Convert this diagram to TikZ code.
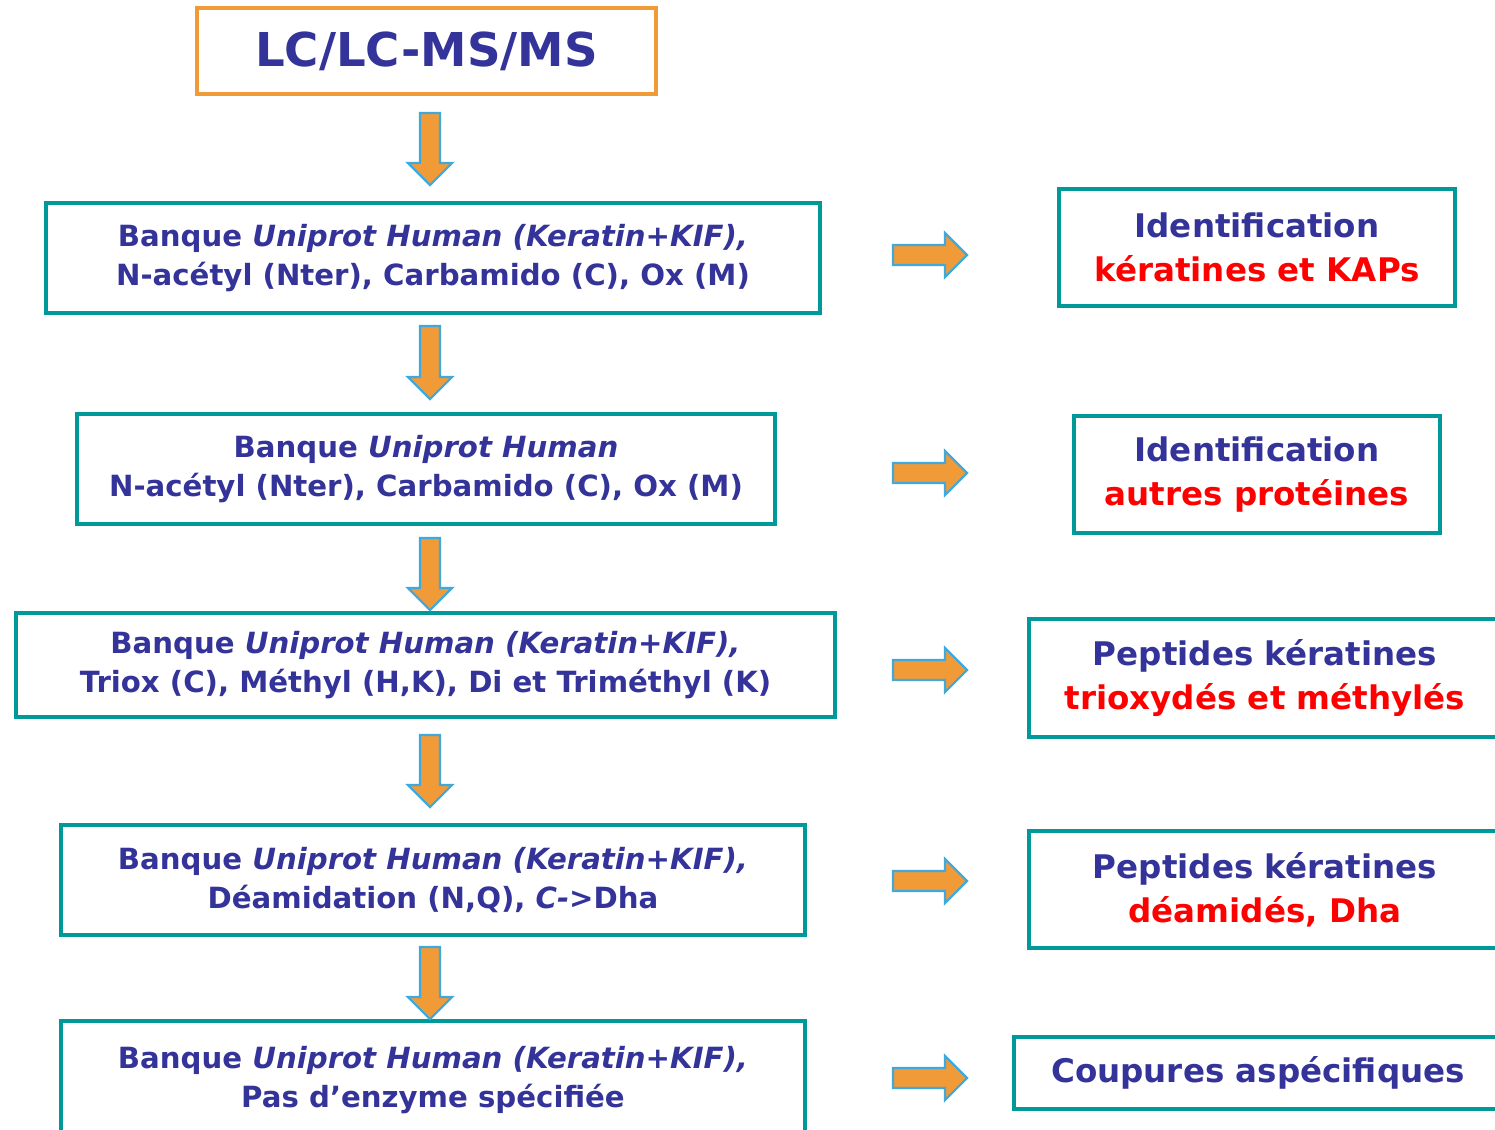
\documentclass[tikz,border=0pt]{standalone}
\usepackage{fontspec}
\setmainfont{DejaVu Sans}
\definecolor{tealb}{HTML}{009999}
\definecolor{orng}{HTML}{F19B38}
\definecolor{arrblue}{HTML}{3DA9DC}
\definecolor{txtblue}{HTML}{333399}
\definecolor{txtred}{HTML}{FF0000}
\tikzset{
  lbox/.style={draw=tealb, line width=3.6pt, fill=white, align=center, inner sep=0pt,
    text=txtblue, font=\bfseries\fontsize{21.9}{29}\selectfont},
  rbox/.style={draw=tealb, line width=3.6pt, fill=white, align=center, inner sep=0pt,
    text=txtblue, font=\bfseries\fontsize{24.4}{33}\selectfont},
  blockarr/.style={draw=arrblue, fill=orng, line width=1.6pt, line join=miter},
}
\newcommand{\rd}[1]{\textcolor{txtred}{#1}}
% down arrow: #1 = x centre, #2 = top y, #3 = bottom y
\newcommand{\darr}[3]{\path[blockarr] (#1-10,#2) -- (#1+10,#2) -- (#1+10,#3-22) -- (#1+22,#3-22)
  -- (#1,#3) -- (#1-22,#3-22) -- (#1-10,#3-22) -- cycle;}
% right arrow: #1 = y centre, #2 = left x, #3 = right x
\newcommand{\rarr}[3]{\path[blockarr] (#2,#1-10) -- (#3-22,#1-10) -- (#3-22,#1-22) -- (#3,#1)
  -- (#3-22,#1+22) -- (#3-22,#1+10) -- (#2,#1+10) -- cycle;}
\begin{document}
\begin{tikzpicture}[x=0.75pt,y=-0.75pt]
\useasboundingbox (0,0) rectangle (1495,1129);
\clip (0,0) rectangle (1495,1129);
% title
\node[draw=orng, line width=3.4pt, fill=white, text=txtblue, inner sep=0pt,
  minimum width=459*0.75pt, minimum height=86*0.75pt, font=\bfseries\fontsize{35}{40}\selectfont]
  (top) at (426.5,51) {LC/LC-MS/MS};
% left boxes
\node[lbox, minimum width=774*0.75pt, minimum height=110*0.75pt] (b1) at (433,258)
  {Banque \textit{Uniprot Human (Keratin+KIF),}\\N-acétyl (Nter), Carbamido (C), Ox (M)};
\node[lbox, minimum width=698*0.75pt, minimum height=110*0.75pt] (b2) at (426,469)
  {Banque \textit{Uniprot Human}\\N-acétyl (Nter), Carbamido (C), Ox (M)};
\node[lbox, minimum width=819*0.75pt, minimum height=104*0.75pt] (b3) at (425.5,665)
  {Banque \textit{Uniprot Human (Keratin+KIF),}\\Triox (C), Méthyl (H,K), Di et Triméthyl (K)};
\node[lbox, minimum width=744*0.75pt, minimum height=110*0.75pt] (b4) at (433,880)
  {Banque \textit{Uniprot Human (Keratin+KIF),}\\Déamidation (N,Q), \textit{C->}Dha};
\node[lbox, minimum width=744*0.75pt, minimum height=118*0.75pt] (b5) at (433,1080)
  {Banque \textit{Uniprot Human (Keratin+KIF),}\\Pas d’enzyme spécifiée};
% right boxes
\node[rbox, minimum width=396*0.75pt, minimum height=117*0.75pt] (r1) at (1257,247.5)
  {Identification\\\rd{kératines et KAPs}};
\node[rbox, minimum width=366*0.75pt, minimum height=117*0.75pt] (r2) at (1257,474.5)
  {Identification\\\rd{autres protéines}};
\node[rbox, minimum width=472*0.75pt, minimum height=118*0.75pt] (r3) at (1265,678)
  {Peptides kératines\\\rd{trioxydés et méthylés}};
\node[rbox, minimum width=472*0.75pt, minimum height=117*0.75pt] (r4) at (1265,889.5)
  {Peptides kératines\\\rd{déamidés, Dha}};
\node[rbox, minimum width=488*0.75pt, minimum height=72*0.75pt] (r5) at (1258,1073)
  {Coupures aspécifiques};
% down arrows
\darr{430}{113}{185}
\darr{430}{326}{399}
\darr{430}{538}{610}
\darr{430}{735}{807}
\darr{430}{947}{1019}
% right arrows
\rarr{255}{893}{967}
\rarr{473}{893}{967}
\rarr{670}{893}{967}
\rarr{881}{893}{967}
\rarr{1078}{893}{967}
\end{tikzpicture}
\end{document}
